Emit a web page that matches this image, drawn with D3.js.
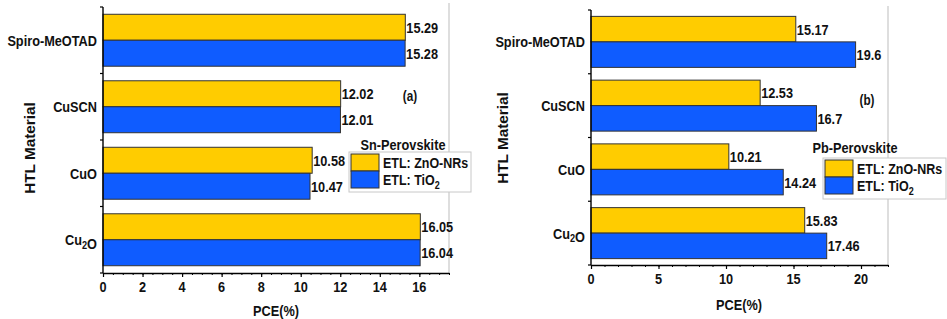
<!DOCTYPE html>
<html>
<head>
<meta charset="utf-8">
<script src="https://cdn.jsdelivr.net/npm/d3@7"></script>
<style>
  body { margin: 0; background: #fff; }
  svg { display: block; font-family: 'Liberation Sans', Arial, sans-serif; }
  text { font-weight: bold; fill: #111; }
</style>
</head>
<body>
<svg id="chart" width="947" height="319"></svg>
<script>
const categories = ['Spiro-MeOTAD', 'CuSCN', 'CuO', 'Cu2O']
const seriesNames = ['ETL: ZnO-NRs', 'ETL: TiO2']
const seriesColors = ['#FFCC00', '#0F5CFF']

// Sn-perovskite (panel a)
const snZnO = [15.29, 12.02, 10.58, 16.05]
const snTiO2 = [15.28, 12.01, 10.47, 16.04]
const snTicks = [0, 2, 4, 6, 8, 10, 12, 14, 16]

// Pb-perovskite (panel b)
const pbZnO = [15.17, 12.53, 10.21, 15.83]
const pbTiO2 = [19.6, 16.7, 14.24, 17.46]
const pbTicks = [0, 5, 10, 15, 20]

const FS = 13
const SY = 1.18 // text in the source figure is stretched vertically
const svg = d3.select('#chart')

// text placed at (x,y) baseline, stretched; digits after letters become subscripts
function label(parent, x, y, str, anchor = 'start', opts = {}) {
  const t = parent.append('text')
    .attr('transform', `translate(${x},${y}) scale(${opts.sx || 0.98},${SY})${opts.rot ? ' rotate(-90)' : ''}`)
    .attr('text-anchor', anchor).attr('font-size', opts.size || FS)
  if (opts.normal) t.attr('font-weight', 'normal')
  const parts = opts.plain ? [str] : str.split(/(?<=[A-Za-z])(\d)/)
  parts.forEach(p => {
    if (!p) return
    if (!opts.plain && /^\d$/.test(p)) {
      t.append('tspan').attr('dy', 3).attr('font-size', '0.72em').text(p)
      t.append('tspan').attr('dy', -3).text('')
    } else {
      t.append('tspan').text(p)
    }
  })
  return t
}

function panel(cfg) {
  const { left, right, top, bottom, max, ticks, minorStep, values, pad } = cfg
  const g = svg.append('g')

  const x = d3.scaleLinear().domain([0, max]).range([left, right])
  const y = d3.scaleBand().domain(categories).range([top, bottom]).padding(0)
  const yIn = d3.scaleBand().domain(seriesNames).range([0, y.bandwidth()])
    .paddingInner(0).paddingOuter(pad)

  // light frame line on the right
  g.append('line').attr('x1', right).attr('x2', right).attr('y1', top - 4).attr('y2', bottom)
    .attr('stroke', '#c8c8c8').attr('stroke-width', 1.2)

  // bars
  categories.forEach((cat, ci) => {
    seriesNames.forEach((s, si) => {
      const v = values[si][ci]
      const by = y(cat) + yIn(s)
      g.append('rect')
        .attr('x', x(0)).attr('y', by)
        .attr('width', x(v) - x(0)).attr('height', yIn.bandwidth())
        .attr('fill', seriesColors[si]).attr('stroke', '#333').attr('stroke-width', 1)
      label(g, x(v) + 1, by + yIn.bandwidth() / 2 + 5.5, String(v), 'start', { plain: true })
    })
    label(g, left - 6, y(cat) + y.bandwidth() / 2 + 5.5, cat, 'end')
  })

  // y axis with boundary ticks
  g.append('line').attr('x1', left).attr('x2', left).attr('y1', top).attr('y2', bottom)
    .attr('stroke', '#000').attr('stroke-width', 1.4)
  const bounds = categories.map(c => y(c)).concat([bottom])
  bounds.forEach(b => {
    g.append('line').attr('x1', left - 3).attr('x2', left).attr('y1', b).attr('y2', b)
      .attr('stroke', '#000').attr('stroke-width', 1.2)
  })

  // x axis: minor then major ticks
  const minor = d3.range(0, max + 1e-9, minorStep)
  g.append('g').attr('transform', `translate(0,${bottom})`)
    .call(d3.axisBottom(x).tickValues(minor).tickSize(2).tickFormat(''))
    .call(a => a.select('.domain').remove())
    .selectAll('line').attr('stroke', '#000').attr('stroke-width', 1)
  const xa = g.append('g').attr('transform', `translate(0,${bottom})`)
    .call(d3.axisBottom(x).tickValues(ticks).tickSize(4).tickSizeOuter(0).tickFormat(''))
  xa.select('.domain').attr('stroke', '#000').attr('stroke-width', 1.4)
  xa.selectAll('line').attr('stroke', '#000').attr('stroke-width', 1.2)
  ticks.forEach(t => label(g, x(t), bottom + 19, String(t), 'middle', { plain: true }))

  label(g, cfg.xTitleX, cfg.xTitleY, 'PCE(%)', 'middle', { plain: true })
  label(g, cfg.yTitleX, cfg.yTitleY, 'HTL Material', 'middle', { plain: true, rot: true, sx: 1.1 })
  label(g, cfg.tagX, cfg.tagY, cfg.tag, 'middle', { plain: true, normal: true, size: 12 })

  // legend
  const L = cfg.legend
  label(g, L.titleX, L.titleY, cfg.title, 'middle', { plain: true })
  g.append('rect').attr('x', L.x).attr('y', L.y).attr('width', L.w).attr('height', L.h)
    .attr('fill', '#fff').attr('stroke', '#c8c8c8').attr('stroke-width', 1)
  seriesNames.forEach((s, si) => {
    const sy = L.y + 2 + si * 17
    g.append('rect').attr('x', L.x + 2).attr('y', sy).attr('width', 28).attr('height', 17)
      .attr('fill', seriesColors[si]).attr('stroke', '#333').attr('stroke-width', 1)
    label(g, L.x + 34, sy + 14, s, 'start', { sx: 0.96 })
  })
}

panel({
  left: 103, right: 449, top: 7, bottom: 273, max: 17.5, ticks: snTicks, minorStep: 0.5,
  values: [snZnO, snTiO2], pad: 0.28,
  xTitleX: 276, xTitleY: 316, yTitleX: 35, yTitleY: 148,
  tag: '(a)', tagX: 410, tagY: 101, title: 'Sn-Perovskite',
  legend: { titleX: 403, titleY: 150, x: 349, y: 152, w: 122, h: 40 }
})

panel({
  left: 591, right: 888, top: 10, bottom: 265, max: 22, ticks: pbTicks, minorStep: 1,
  values: [pbZnO, pbTiO2], pad: 0.25,
  xTitleX: 739, xTitleY: 310, yTitleX: 508, yTitleY: 138,
  tag: '(b)', tagX: 867, tagY: 105, title: 'Pb-Perovskite',
  legend: { titleX: 855, titleY: 153, x: 823, y: 158, w: 123, h: 41 }
})
</script>
</body>
</html>
